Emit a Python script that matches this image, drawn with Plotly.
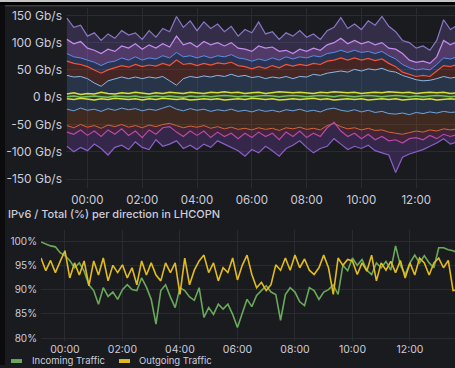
import pandas as pd
import plotly.graph_objects as go

W, H = 455, 368

# ---------------- data: top panel (Gb/s), 15-min samples from 23:15 ----------------
top_start = "2024-01-01 23:15"
out_green = [1,2,0,1,2,1,0,2,1,1,2,0,1,2,1,2,1,0,2,1,2,1,2,3,2,1,2,1,2,3,2,1,2,3,2,1,2,3,2,1,3,2,1,2,3,2,1,2,3,2,1,2,1,2,3,2,1,2]
out_yellow = [6,8,5,7,6,9,7,6,8,7,9,8,6,8,7,9,8,7,9,8,7,9,8,10,8,9,7,8,9,7,8,10,9,8,9,8,7,9,8,10,9,8,9,7,8,9,8,10,9,8,9,7,8,9,8,9,7,8]
out_lightblue = [40,37,38,34,26,20,30,34,37,34,37,34,37,35,38,30,22,34,38,36,39,37,40,38,42,38,40,36,38,34,37,35,38,34,38,37,42,40,44,46,48,46,51,48,52,50,53,48,46,40,36,32,30,31,34,38,35,37]
out_red = [66,62,60,56,50,44,50,54,58,55,60,56,59,57,62,58,68,60,62,58,62,59,63,61,64,58,56,52,56,53,58,54,60,57,60,58,62,60,66,68,72,68,72,68,71,67,70,62,56,46,42,38,40,38,48,58,56,60]
out_blue = [80,74,72,68,64,58,64,66,72,68,74,68,72,70,76,72,82,74,76,72,76,72,76,74,78,72,70,66,70,67,72,68,74,70,74,72,76,74,80,82,86,82,86,82,84,80,84,76,70,60,54,50,52,50,60,72,70,74]
out_violet = [106,98,102,90,86,80,88,84,94,90,98,88,96,90,98,92,112,96,100,92,102,96,100,94,100,90,88,84,94,90,92,84,86,80,88,84,90,86,96,100,108,98,104,98,102,96,100,90,88,80,68,64,66,62,74,104,96,102]
out_purple = [145,128,132,112,118,104,116,108,122,114,118,106,122,110,126,120,148,128,140,122,138,126,134,120,130,112,124,118,138,116,120,106,118,112,122,110,116,106,122,128,146,126,134,124,140,132,148,130,120,104,100,90,94,86,104,142,124,132]

in_yellow = [-3,-4,-2,-3,-5,-3,-4,-2,-3,-4,-3,-5,-3,-4,-2,-3,-4,-3,-5,-4,-3,-4,-3,-5,-4,-3,-4,-2,-3,-4,-3,-5,-4,-3,-4,-3,-2,-4,-3,-5,-4,-3,-4,-3,-5,-4,-3,-4,-3,-5,-4,-3,-4,-3,-5,-4,-3,-4]
in_blue = [-22,-25,-20,-24,-22,-26,-21,-24,-20,-23,-21,-25,-22,-24,-20,-16,-22,-25,-21,-24,-22,-26,-23,-25,-22,-26,-24,-27,-23,-26,-24,-27,-23,-25,-22,-26,-24,-27,-22,-20,-24,-26,-23,-27,-24,-28,-26,-30,-31,-29,-32,-28,-30,-27,-29,-26,-28,-27]
in_orange = [-52,-56,-50,-55,-52,-57,-51,-54,-50,-55,-52,-56,-51,-54,-50,-48,-52,-56,-53,-55,-52,-57,-54,-58,-55,-59,-57,-60,-56,-59,-57,-61,-56,-58,-55,-59,-57,-60,-52,-48,-54,-58,-56,-60,-57,-61,-60,-64,-66,-68,-65,-62,-64,-60,-62,-58,-60,-58]
in_magenta = [-64,-68,-60,-70,-62,-72,-60,-68,-58,-70,-62,-74,-60,-68,-56,-54,-64,-72,-62,-70,-62,-74,-64,-72,-66,-76,-66,-74,-64,-72,-66,-78,-64,-72,-62,-74,-66,-72,-56,-46,-62,-72,-66,-76,-68,-78,-72,-80,-78,-84,-76,-74,-78,-70,-76,-68,-72,-68]
in_purple = [-90,-100,-92,-98,-86,-94,-106,-92,-88,-96,-82,-92,-96,-78,-90,-86,-80,-94,-88,-96,-86,-92,-80,-86,-92,-98,-108,-96,-102,-90,-98,-108,-94,-88,-80,-92,-102,-94,-90,-76,-86,-96,-90,-94,-88,-98,-102,-106,-138,-110,-104,-100,-96,-90,-84,-76,-86,-82]

top_yticks = [-150, -100, -50, 0, 50, 100, 150]
top_yticktext = ["-150 Gb/s", "-100 Gb/s", "-50 Gb/s", "0 b/s", "50 Gb/s", "100 Gb/s", "150 Gb/s"]

# ---------------- data: bottom panel (%), 10-min samples from 23:10 ----------------
bot_start = "2024-01-01 23:10"
incoming = [99.8,99.4,99.0,98.8,97.6,97.0,96.0,94.5,95.5,93.8,91.0,89.8,87.0,90.4,88.6,89.5,88.0,90.0,91.0,90.0,
            89.8,92.4,90.5,88.0,82.9,89.8,91.0,88.5,86.3,90.4,89.8,88.5,87.8,90.4,84.3,86.3,84.9,87.0,86.0,87.0,
            84.9,82.2,85.0,88.0,86.5,88.8,89.8,90.8,89.5,89.0,83.7,89.0,90.4,89.5,87.5,86.7,90.4,89.8,88.0,89.5,
            90.0,91.0,89.0,95.0,93.9,96.5,95.0,96.2,94.0,93.1,95.5,94.5,95.8,94.0,99.0,95.0,93.1,95.5,97.1,95.5,
            97.0,95.5,94.5,98.6,98.6,98.2,98.0,97.5]
outgoing = [96.5,93.9,96.0,93.5,95.8,98.0,92.4,95.5,93.0,95.9,90.8,95.9,93.0,96.5,91.8,95.0,93.5,95.1,92.4,94.5,
            91.0,95.9,93.0,95.5,93.0,91.8,95.5,93.5,95.5,89.0,96.5,91.0,94.0,95.9,97.1,93.5,95.5,91.8,94.5,93.5,
            96.5,92.0,95.0,97.1,93.1,90.4,91.5,89.8,91.0,95.1,94.0,96.5,94.0,97.1,94.5,96.3,94.0,93.1,94.5,97.1,
            94.5,89.0,96.5,95.0,96.2,95.9,93.1,95.5,93.8,97.1,91.8,95.5,94.0,95.8,93.5,96.0,92.4,95.5,93.0,96.5,
            95.5,93.0,95.5,96.5,94.5,96.0,89.8,90.0]
bot_yticks = [80, 85, 90, 95, 100]
bot_yticktext = ["80%", "85%", "90%", "95%", "100%"]
legend_names = ["Incoming Traffic", "Outgoing Traffic"]
panel_title = "IPv6 / Total (%) per direction in LHCOPN"

for s in [out_green, out_yellow, out_lightblue, out_red, out_blue, out_violet, out_purple,
          in_yellow, in_blue, in_orange, in_magenta, in_purple]:
    assert len(s) == 58, len(s)
assert len(incoming) == 88 and len(outgoing) == 88

t_top = pd.date_range(top_start, periods=58, freq="15min")
t_bot = pd.date_range(bot_start, periods=88, freq="10min")

BG = "#1a1b1f"
TXT = "#ccccdc"
GRID = "#2a2b30"
FONT = "Inter"

fig = go.Figure()

def add_top(y, line, fill, fillcolor=None, width=1.0):
    fig.add_trace(go.Scatter(x=t_top, y=y, mode="lines", line=dict(color=line, width=width),
                             fill=fill, fillcolor=fillcolor, showlegend=False, hoverinfo="skip",
                             xaxis="x", yaxis="y"))

# positive side (outgoing), bottom to top
add_top(out_green, "#73bf69", "tozeroy", "rgba(115,191,105,0.15)", 1.5)
add_top(out_yellow, "#d6e03c", "tonexty", "rgba(210,220,60,0.18)", 1.5)
add_top(out_lightblue, "#8ab8e8", "tonexty", "rgba(70,110,160,0.32)", 1.0)
add_top(out_red, "#f2553c", "tonexty", "rgba(190,70,50,0.26)", 1.2)
add_top(out_blue, "#5b8ee8", "tonexty", "rgba(80,110,200,0.30)", 1.0)
add_top(out_violet, "#c48ef0", "tonexty", "rgba(170,110,220,0.38)", 1.2)
add_top(out_purple, "#8a77c4", "tonexty", "rgba(110,90,170,0.30)", 1.2)
# negative side (incoming), top to bottom
add_top(in_yellow, "#d6e03c", "tozeroy", "rgba(210,220,60,0.15)", 1.5)
add_top(in_blue, "#6fa3dc", "tonexty", "rgba(70,110,160,0.30)", 1.0)
add_top(in_orange, "#d8643a", "tonexty", "rgba(150,80,40,0.30)", 1.0)
add_top(in_magenta, "#b84aa6", "tonexty", "rgba(170,60,130,0.28)", 1.2)
add_top(in_purple, "#8a60c8", "tonexty", "rgba(110,65,165,0.32)", 1.2)

# bottom panel
fig.add_trace(go.Scatter(x=t_bot, y=incoming, mode="lines", name=legend_names[0],
                         line=dict(color="#6aa95a", width=1.6), showlegend=False,
                         xaxis="x2", yaxis="y2"))
fig.add_trace(go.Scatter(x=t_bot, y=outgoing, mode="lines", name=legend_names[1],
                         line=dict(color="#e0bb22", width=1.6), showlegend=False,
                         xaxis="x2", yaxis="y2"))

def py(px):
    return 1 - px / H

def pxx(px):
    return px / W

# top panel geometry: plot from x=66..455, y=8..190 px ; 0 at y=98, 0.55 px per Gb/s
k_top = 0.55
top_ymax = (98 - 8) / k_top
top_ymin = -(190 - 98) / k_top
# bottom panel: plot y=232..344 px, 100% at 243, 4.9 px per %
k_bot = 4.9
bot_top_px, bot_bot_px = 232, 344
bot_ymax = 100 + (243 - bot_top_px) / k_bot
bot_ymin = 100 - (bot_bot_px - 243) / k_bot

axis_common = dict(showgrid=True, gridcolor=GRID, gridwidth=1, zeroline=False, showline=False,
                   ticks="", color=TXT)

fig.update_layout(
    width=W, height=H,
    margin=dict(l=0, r=0, t=0, b=0),
    paper_bgcolor=BG, plot_bgcolor=BG,
    font=dict(family=FONT, color=TXT),
    showlegend=False,
    xaxis=dict(domain=[pxx(66), 1], anchor="y", type="date",
               range=["2024-01-01 23:13", "2024-01-02 13:25"],
               tick0="2024-01-02 00:00", dtick=7200000, tickformat="%H:%M",
               tickfont=dict(size=11.5, family=FONT, color=TXT), ticklabelstandoff=3, **axis_common),
    yaxis=dict(domain=[py(190), py(8)], anchor="x", range=[top_ymin, top_ymax],
               tickvals=top_yticks, ticktext=top_yticktext,
               tickfont=dict(size=12, family=FONT, color=TXT), ticklabelstandoff=3, **axis_common),
    xaxis2=dict(domain=[pxx(41), 1], anchor="y2", type="date",
                range=["2024-01-01 23:10", "2024-01-02 13:34"],
                tick0="2024-01-02 00:00", dtick=7200000, tickformat="%H:%M",
                tickfont=dict(size=10.5, family=FONT, color=TXT), ticklabelstandoff=0, **axis_common),
    yaxis2=dict(domain=[py(bot_bot_px), py(bot_top_px)], anchor="x2", range=[bot_ymin, bot_ymax],
                tickvals=bot_yticks, ticktext=bot_yticktext,
                tickfont=dict(size=10, family=FONT, color=TXT), ticklabelstandoff=3, **axis_common),
)

shapes = [
    # top screenshot strip
    dict(type="rect", xref="paper", yref="paper", x0=0, x1=1, y0=py(2), y1=1,
         fillcolor="#c4c4c4", line=dict(width=0), layer="above"),
    dict(type="rect", xref="paper", yref="paper", x0=0, x1=1, y0=py(5), y1=py(2),
         fillcolor="#000000", line=dict(width=0), layer="above"),
    dict(type="rect", xref="paper", yref="paper", x0=0, x1=1, y0=py(6.5), y1=py(5),
         fillcolor="#3c3d43", line=dict(width=0), layer="above"),
    # left dark strip
    dict(type="rect", xref="paper", yref="paper", x0=0, x1=pxx(5), y0=0, y1=py(5),
         fillcolor="#0c0c0e", line=dict(width=0), layer="above"),
    # legend markers
    dict(type="rect", xref="paper", yref="paper", x0=pxx(11), x1=pxx(22), y0=py(366), y1=py(362),
         fillcolor="#6aa95a", line=dict(width=0), layer="above"),
    dict(type="rect", xref="paper", yref="paper", x0=pxx(119), x1=pxx(130), y0=py(366), y1=py(362),
         fillcolor="#e0bb22", line=dict(width=0), layer="above"),
]
fig.update_layout(shapes=shapes)

fig.add_annotation(text=panel_title, xref="paper", yref="paper", x=pxx(6), y=py(216),
                   xanchor="left", yanchor="middle", showarrow=False,
                   font=dict(size=11, family=FONT, color=TXT, weight=500))
fig.add_annotation(text=legend_names[0], xref="paper", yref="paper", x=pxx(30), y=py(363.5),
                   xanchor="left", yanchor="middle", showarrow=False,
                   font=dict(size=9.5, family=FONT, color=TXT))
fig.add_annotation(text=legend_names[1], xref="paper", yref="paper", x=pxx(137), y=py(363.5),
                   xanchor="left", yanchor="middle", showarrow=False,
                   font=dict(size=9.5, family=FONT, color=TXT))

fig.write_html("out.html", post_script="document.body.style.margin='0';",
               config={"displayModeBar": False})
